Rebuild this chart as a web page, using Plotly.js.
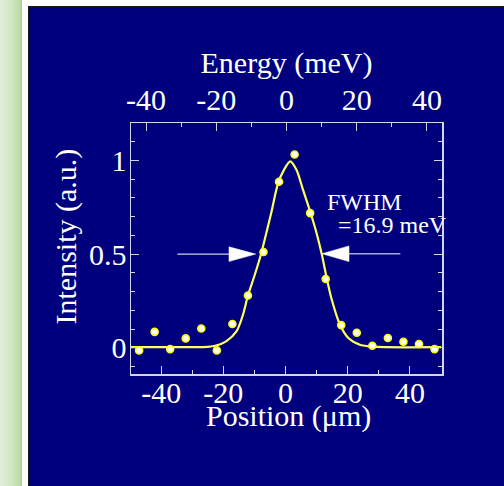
<!DOCTYPE html>
<html>
<head>
<meta charset="utf-8">
<script src="https://cdn.plot.ly/plotly-3.0.1.min.js"></script>
<style>
  html, body { margin:0; padding:0; }
  body { width:504px; height:486px; overflow:hidden; position:relative; background:#00007e; }
  .strip { position:absolute; left:0; top:0; width:22px; height:486px;
           background:linear-gradient(to right, #e2efdc 0%, #cfe6c2 55%, #b9dca2 90%, #a8d48e 100%); }
  .white-v { position:absolute; left:22px; top:0; width:6px; height:486px; background:#ffffff; }
  .white-h { position:absolute; left:22px; top:0; width:482px; height:6px; background:#ffffff; }
  .black-v { position:absolute; left:28px; top:6px; width:1px; height:480px; background:#1a1a1a; }
  .black-h { position:absolute; left:28px; top:6px; width:476px; height:1px; background:#1a1a1a; }
  #plot { position:absolute; left:0; top:0; width:504px; height:486px; }
</style>
</head>
<body>
<div class="strip"></div>
<div class="white-v"></div>
<div class="white-h"></div>
<div class="black-v"></div>
<div class="black-h"></div>
<div id="plot"></div>
<script>
// Measured data points (position in µm, intensity in a.u.)
const positionUm = [-47.1, -42.1, -37.1, -32.1, -27.1, -22.1, -17.1, -12.1, -7.1, -2.1,
                    2.9, 7.9, 12.9, 17.9, 22.9, 27.9, 32.9, 37.9, 42.9, 47.9];
const intensity  = [-0.014, 0.085, -0.007, 0.050, 0.103, -0.014, 0.127, 0.279, 0.511, 0.886,
                    1.032, 0.719, 0.367, 0.121, 0.080, 0.011, 0.052, 0.032, 0.020, -0.007];

// Fitted curve
const fitX = [-50, -30, -25, -22.3, -19.1, -15.8, -13.7, -12.1, -9.9, -7.8, -6.2, -4.5, -2.4, -0.5,
              1.5, 3.5, 5.6, 8.0, 10.0, 11.7, 13.0, 14.8, 17.5, 20.2, 23.9, 27.2, 32, 50];
const fitY = [0.003, 0.003, 0.005, 0.012, 0.034, 0.087, 0.176, 0.279, 0.39, 0.505, 0.612, 0.728, 0.879, 0.95,
              0.995, 0.950, 0.844, 0.722, 0.61, 0.495, 0.39, 0.26, 0.123, 0.052, 0.016, 0.007, 0.003, 0.003];

// Tick labels
const positionTicks = [-40, -20, 0, 20, 40];
const positionTickText = ['-40', '-20', '0', '20', '40'];
const energyTicks = [-40, -20, 0, 20, 40];
const energyTickText = ['-40', '-20', '0', '20', '40'];
const intensityTicks = [0, 0.5, 1];
const intensityTickText = ['0', '0.5', '1'];

// Titles and annotation text
const positionTitle = 'Position (μm)';
const energyTitle = 'Energy (meV)';
const intensityTitle = 'Intensity (a.u.)';
const fwhmLabel = 'FWHM';
const fwhmValue = '=16.9 meV';

const axisColor = '#d4d4f2';
const serif = '"Liberation Serif", "Times New Roman", serif';

const traces = [
  {
    x: fitX, y: fitY, type: 'scatter', mode: 'lines',
    line: { color: '#ffff5c', width: 2.2, shape: 'spline', smoothing: 0.8 },
    hoverinfo: 'skip', cliponaxis: true
  },
  {
    x: positionUm, y: intensity, type: 'scatter', mode: 'markers',
    marker: { color: '#ffffff', size: 7, line: { color: '#ffff00', width: 1.6 } },
    cliponaxis: false
  },
  // empty trace so the top energy axis is drawn
  { x: [], y: [], type: 'scatter', mode: 'markers', xaxis: 'x2', yaxis: 'y', hoverinfo: 'skip' }
];

const commonX = {
  ticks: 'inside', ticklen: 8, tickwidth: 1, tickcolor: axisColor,
  showline: true, linecolor: axisColor, linewidth: 1.5,
  showgrid: false, zeroline: false, automargin: false,
  tickfont: { family: serif, size: 30, color: '#ffffff' },
  minor: { dtick: 10, tick0: 0, ticks: 'inside', ticklen: 4, tickwidth: 1, tickcolor: axisColor }
};

const titleFont = { family: serif, size: 30, color: '#ffffff' };

const layout = {
  width: 504, height: 486,
  paper_bgcolor: 'rgba(0,0,0,0)', plot_bgcolor: '#00007e',
  margin: { l: 131, r: 62, t: 123, b: 112, pad: 0 },
  showlegend: false,
  font: { family: serif, color: '#ffffff', size: 30 },
  xaxis: Object.assign({}, commonX, {
    range: [-49.7, 50.3], tickmode: 'array', tickvals: positionTicks, ticktext: positionTickText,
    ticklabelstandoff: -9
  }),
  xaxis2: Object.assign({}, commonX, {
    overlaying: 'x', side: 'top', anchor: 'y',
    range: [-44.3, 44.3], tickmode: 'array', tickvals: energyTicks, ticktext: energyTickText,
    title: { text: energyTitle, font: titleFont, standoff: 0 }
  }),
  yaxis: {
    range: [-0.14, 1.2], tickmode: 'array', tickvals: intensityTicks, ticktext: intensityTickText,
    ticks: 'inside', ticklen: 8, tickwidth: 1, tickcolor: axisColor,
    showline: true, linecolor: axisColor, linewidth: 1.5, mirror: 'ticks',
    showgrid: false, zeroline: false, automargin: false, ticklabelstandoff: -3,
    tickfont: { family: serif, size: 30, color: '#ffffff' },
    minor: { dtick: 0.1, tick0: 0, ticks: 'inside', ticklen: 4, tickwidth: 1, tickcolor: axisColor }
  },
  annotations: [
    { text: positionTitle, xref: 'paper', yref: 'paper', x: 0.505, y: -0.167,
      xanchor: 'center', yanchor: 'middle', showarrow: false, font: titleFont },
    { text: intensityTitle, xref: 'paper', yref: 'paper', x: -0.2106, y: 0.546, textangle: -90,
      xanchor: 'center', yanchor: 'middle', showarrow: false, font: titleFont },
    { text: fwhmLabel, xref: 'x', yref: 'y', x: 12.6, y: 0.78, xanchor: 'left', yanchor: 'middle',
      showarrow: false, font: { family: serif, size: 24, color: '#ffffff' } },
    { text: fwhmValue, xref: 'x', yref: 'y', x: 16.3, y: 0.655, xanchor: 'left', yanchor: 'middle',
      showarrow: false, font: { family: serif, size: 24, color: '#ffffff' } }
  ],
  shapes: [
    { type: 'line', xref: 'x', yref: 'y', x0: -34.8, x1: -18.2, y0: 0.5, y1: 0.5,
      line: { color: '#ffffff', width: 1 } },
    { type: 'path', xref: 'x', yref: 'y', path: 'M -18.2 0.539 L -9.6 0.5 L -18.2 0.461 Z',
      fillcolor: '#ffffff', line: { color: '#ffffff', width: 0.5 } },
    { type: 'line', xref: 'x', yref: 'y', x0: 20.4, x1: 36.9, y0: 0.502, y1: 0.502,
      line: { color: '#a8a8e0', width: 1.5 } },
    { type: 'path', xref: 'x', yref: 'y', path: 'M 20.4 0.544 L 11.7 0.502 L 20.4 0.46 Z',
      fillcolor: '#ffffff', line: { color: '#ffffff', width: 0.5 } }
  ]
};

Plotly.newPlot('plot', traces, layout, { displayModeBar: false, staticPlot: true });
</script>
</body>
</html>
